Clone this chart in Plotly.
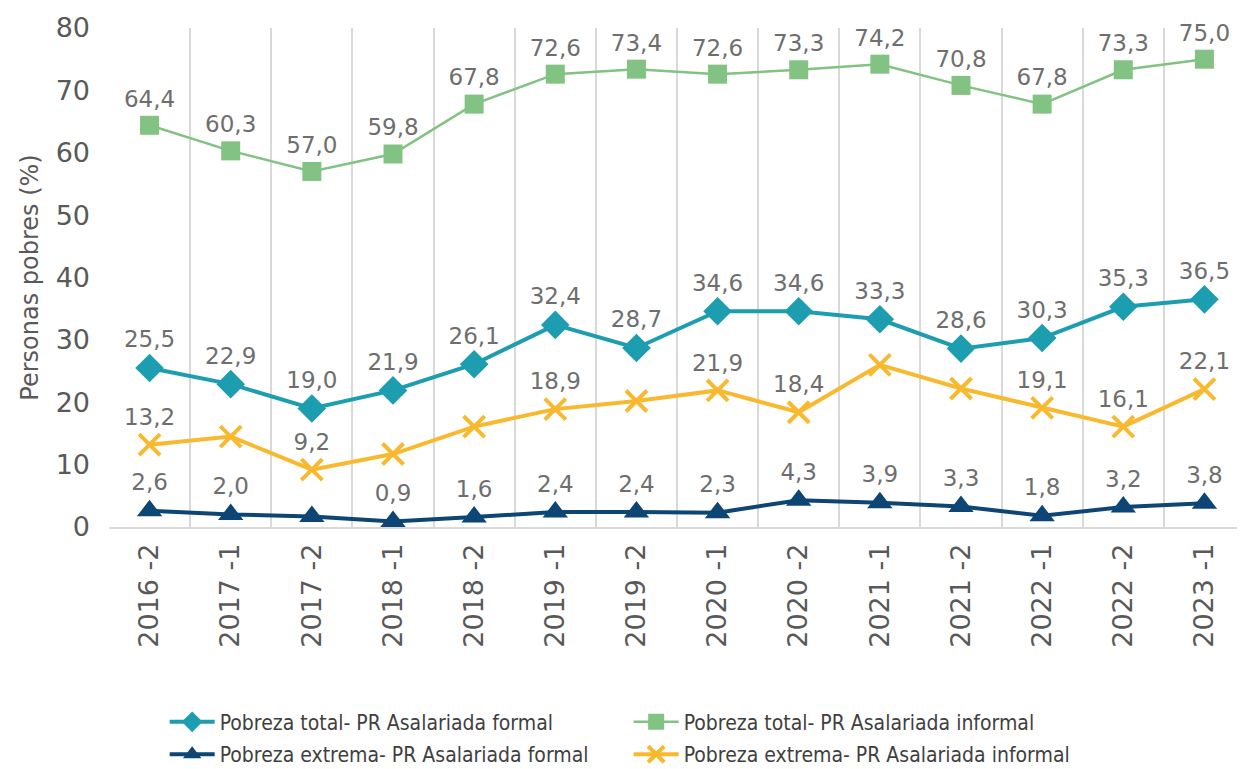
import plotly.graph_objects as go

categories = ["2016 -2", "2017 -1", "2017 -2", "2018 -1", "2018 -2", "2019 -1", "2019 -2",
              "2020 -1", "2020 -2", "2021 -1", "2021 -2", "2022 -1", "2022 -2", "2023 -1"]

total_formal = [25.5, 22.9, 19.0, 21.9, 26.1, 32.4, 28.7, 34.6, 34.6, 33.3, 28.6, 30.3, 35.3, 36.5]
total_informal = [64.4, 60.3, 57.0, 59.8, 67.8, 72.6, 73.4, 72.6, 73.3, 74.2, 70.8, 67.8, 73.3, 75.0]
extrema_formal = [2.6, 2.0, 1.7, 0.9, 1.6, 2.4, 2.4, 2.3, 4.3, 3.9, 3.3, 1.8, 3.2, 3.8]
extrema_informal = [13.2, 14.5, 9.2, 11.7, 16.1, 18.9, 20.2, 21.9, 18.4, 26.0, 22.2, 19.1, 16.1, 22.1]

# which points carry a visible data label in the reference
show_total_formal = [True] * 14
show_total_informal = [True] * 14
show_extrema_formal = [True, True, False, True, True, True, True, True, True, True, True, True, True, True]
show_extrema_informal = [True, False, True, False, False, True, False, True, True, False, False, True, True, True]

names = ["Pobreza total- PR Asalariada formal",
         "Pobreza total- PR Asalariada informal",
         "Pobreza extrema- PR Asalariada formal",
         "Pobreza extrema- PR Asalariada informal"]


def fmt(vals, mask):
    return [f"{v:.1f}".replace(".", ",") if m else "" for v, m in zip(vals, mask)]


BASE = "DejaVu Sans, Open Sans, sans-serif"
LABEL_FONT = dict(family=BASE, size=23, color="#6e6e6e")
LEG_FONT = dict(family="DejaVu Sans Condensed, Liberation Sans, sans-serif", size=21, color="#3f3f3f")

fig = go.Figure()

fig.add_trace(go.Scatter(
    x=categories, y=total_formal, name=names[0], mode="lines+markers+text",
    line=dict(color="#1d9db0", width=4),
    marker=dict(symbol="diamond", size=22, color="#1d9db0"),
    text=fmt(total_formal, show_total_formal), textposition="top center",
    textfont=LABEL_FONT, cliponaxis=False, legend="legend"))

fig.add_trace(go.Scatter(
    x=categories, y=total_informal, name=names[1], mode="lines+markers+text",
    line=dict(color="#82c282", width=2.5),
    marker=dict(symbol="square", size=19, color="#82c282"),
    text=fmt(total_informal, show_total_informal), textposition="top center",
    textfont=LABEL_FONT, cliponaxis=False, legend="legend"))

fig.add_trace(go.Scatter(
    x=categories, y=extrema_formal, name=names[2], mode="lines+markers+text",
    line=dict(color="#0d4574", width=4),
    marker=dict(symbol="triangle-up", size=22, color="#0d4574"),
    text=fmt(extrema_formal, show_extrema_formal), textposition="top center",
    textfont=LABEL_FONT, cliponaxis=False, legend="legend2"))

fig.add_trace(go.Scatter(
    x=categories, y=extrema_informal, name=names[3], mode="lines+markers+text",
    line=dict(color="#f9b92f", width=4),
    marker=dict(symbol="x-thin-open", size=21, color="#f9b92f",
                line=dict(color="#f9b92f", width=4)),
    text=fmt(extrema_informal, show_extrema_informal), textposition="top center",
    textfont=LABEL_FONT, cliponaxis=False, legend="legend2"))

fig.update_layout(
    width=1237, height=761,
    margin=dict(l=101, r=0, t=20, b=242, autoexpand=False),
    paper_bgcolor="white", plot_bgcolor="white",
    font=dict(family=BASE, color="#595959"),
    showlegend=True,
    legend=dict(orientation="h", x=0.049, xanchor="left", y=-0.35, yanchor="top",
                font=LEG_FONT, entrywidth=404, entrywidthmode="pixels", itemwidth=45,
                bgcolor="rgba(0,0,0,0)", itemclick=False),
    legend2=dict(orientation="h", x=0.049, xanchor="left", y=-0.415, yanchor="top",
                 font=LEG_FONT, entrywidth=404, entrywidthmode="pixels", itemwidth=45,
                 bgcolor="rgba(0,0,0,0)", itemclick=False),
    xaxis=dict(type="category", range=[-0.5, 13.5], tickson="boundaries", showgrid=True,
               automargin=False,
               gridcolor="#d9d9d9", gridwidth=1.5, showline=True, linecolor="#d9d9d9",
               linewidth=1.5, ticks="", tickangle=-90,
               tickfont=dict(size=27, color="#595959"), ticklabelstandoff=4),
    yaxis=dict(range=[0, 80], dtick=10, showgrid=False, zeroline=False, showline=False,
               automargin=False,
               ticks="", tickfont=dict(size=27, color="#595959"), ticklabelstandoff=18,
               title=dict(text="Personas pobres (%)", font=dict(size=24, color="#595959"),
                          standoff=10)),
)

fig.write_html("out.html")
